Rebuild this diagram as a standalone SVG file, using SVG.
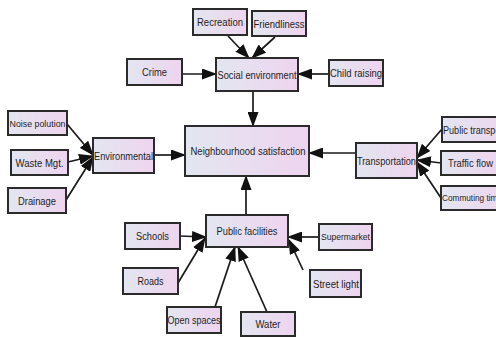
<svg xmlns="http://www.w3.org/2000/svg" width="496" height="338" viewBox="0 0 496 338">
<defs>
<linearGradient id="g" x1="0" y1="0" x2="1" y2="0">
<stop offset="0" stop-color="#e3e6f0"/>
<stop offset="1" stop-color="#eed4ef"/>
</linearGradient>
<marker id="ah" viewBox="0 0 15 11" refX="14" refY="5.5" markerWidth="15" markerHeight="11" markerUnits="userSpaceOnUse" orient="auto">
<path d="M0,0 L15,5.5 L0,11 z" fill="#111"/>
</marker>
<style>
rect{fill:url(#g);stroke:#2b2b2b;stroke-width:2}
text{font-family:"Liberation Sans",Arial,sans-serif;font-size:11.5px;fill:#1e1e1e;text-anchor:middle}
.s{font-size:9.5px}
.l{text-anchor:start}
#edges line{stroke:#1a1a1a;stroke-width:1.7;marker-end:url(#ah)}
</style>
</defs>
<rect x="0" y="0" width="496" height="338" style="fill:#fff;stroke:none"/>
<g id="edges">
<line x1="228" y1="36" x2="249" y2="58"/>
<line x1="275" y1="37" x2="252" y2="58"/>
<line x1="182" y1="74" x2="216" y2="74"/>
<line x1="329" y1="74" x2="298" y2="74"/>
<line x1="253" y1="92" x2="253" y2="126"/>
<line x1="154" y1="155" x2="185" y2="155"/>
<line x1="356" y1="153" x2="309" y2="153"/>
<line x1="246" y1="215" x2="246" y2="176"/>
<line x1="67" y1="124" x2="93" y2="155"/>
<line x1="68" y1="162" x2="93" y2="156"/>
<line x1="66" y1="200" x2="93" y2="157"/>
<line x1="442" y1="129" x2="417" y2="158"/>
<line x1="441" y1="163" x2="417" y2="160"/>
<line x1="441" y1="198" x2="417" y2="162"/>
<line x1="180" y1="236" x2="206" y2="237"/>
<line x1="178" y1="283" x2="205" y2="238"/>
<line x1="215" y1="307" x2="235" y2="247"/>
<line x1="267" y1="312" x2="238" y2="247"/>
<line x1="319" y1="237" x2="288" y2="237"/>
<line x1="303" y1="270" x2="289" y2="240"/>
</g>
<g id="recreation"><rect x="193" y="9" width="54" height="26"/><text x="220" y="26" textLength="46" lengthAdjust="spacingAndGlyphs">Recreation</text></g>
<g id="friendliness"><rect x="252" y="11" width="54" height="25"/><text x="279" y="27.5" textLength="51" lengthAdjust="spacingAndGlyphs">Friendliness</text></g>
<g id="crime"><rect x="127" y="59" width="55" height="26"/><text x="154.5" y="76" textLength="25" lengthAdjust="spacingAndGlyphs">Crime</text></g>
<g id="social"><rect x="216" y="58" width="82" height="33"/><text x="257" y="78.5" textLength="79" lengthAdjust="spacingAndGlyphs">Social environment</text></g>
<g id="child"><rect x="329" y="60" width="54" height="26"/><text x="356" y="77" textLength="52" lengthAdjust="spacingAndGlyphs">Child raising</text></g>
<g id="ns"><rect x="185" y="126" width="124" height="50"/><text x="248" y="155" textLength="115" lengthAdjust="spacingAndGlyphs">Neighbourhood satisfaction</text></g>
<g id="noise"><rect x="8" y="111" width="59" height="24"/><text class="s" x="37.5" y="126.5" textLength="56" lengthAdjust="spacingAndGlyphs">Noise polution</text></g>
<g id="waste"><rect x="11" y="150" width="57" height="25"/><text x="39.5" y="166.5" textLength="48" lengthAdjust="spacingAndGlyphs">Waste Mgt.</text></g>
<g id="drainage"><rect x="8" y="188" width="58" height="25"/><text x="37" y="204.5" textLength="38" lengthAdjust="spacingAndGlyphs">Drainage</text></g>
<g id="environmental"><rect x="93" y="138" width="61" height="35"/><text x="123.5" y="159.5" textLength="59" lengthAdjust="spacingAndGlyphs">Environmental</text></g>
<g id="transportation"><rect x="356" y="143" width="61" height="35"/><text x="386.5" y="164.5" textLength="59" lengthAdjust="spacingAndGlyphs">Transportation</text></g>
<g id="publictransport"><rect x="442" y="117" width="70" height="25"/><text class="l" x="443" y="133.5" textLength="63" lengthAdjust="spacingAndGlyphs">Public transport</text></g>
<g id="traffic"><rect x="441" y="151" width="60" height="24"/><text x="470.5" y="167" textLength="45" lengthAdjust="spacingAndGlyphs">Traffic flow</text></g>
<g id="commuting"><rect x="441" y="186" width="70" height="24"/><text class="s l" x="442" y="201" textLength="60" lengthAdjust="spacingAndGlyphs">Commuting time</text></g>
<g id="publicfacilities"><rect x="206" y="215" width="82" height="32"/><text x="247" y="235" textLength="61" lengthAdjust="spacingAndGlyphs">Public facilities</text></g>
<g id="schools"><rect x="125" y="223" width="55" height="26"/><text x="152.5" y="240" textLength="33" lengthAdjust="spacingAndGlyphs">Schools</text></g>
<g id="supermarket"><rect x="319" y="224" width="53" height="26"/><text class="s" x="345.5" y="240" textLength="49" lengthAdjust="spacingAndGlyphs">Supermarket</text></g>
<g id="roads"><rect x="123" y="268" width="55" height="26"/><text x="150.5" y="285" textLength="26" lengthAdjust="spacingAndGlyphs">Roads</text></g>
<g id="streetlight"><rect x="310" y="270" width="51" height="27"/><text x="336" y="287.5" textLength="46" lengthAdjust="spacingAndGlyphs">Street light</text></g>
<g id="openspaces"><rect x="167" y="307" width="54" height="26"/><text x="194" y="324" textLength="53" lengthAdjust="spacingAndGlyphs">Open spaces</text></g>
<g id="water"><rect x="241" y="312" width="54" height="24"/><text x="268" y="328" textLength="25" lengthAdjust="spacingAndGlyphs">Water</text></g>
</svg>
